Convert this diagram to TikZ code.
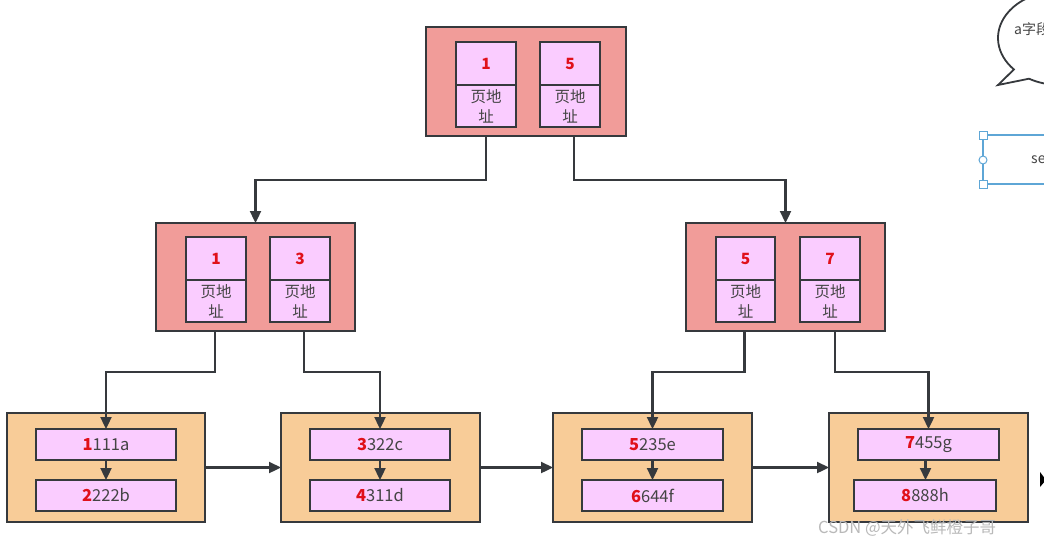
\documentclass[tikz,border=0pt]{standalone}
\usepackage{fontspec}
\setmainfont{Noto Sans CJK SC}
\usetikzlibrary{arrows.meta}
\definecolor{lc}{HTML}{36393D}
\definecolor{salmon}{HTML}{F19C99}
\definecolor{pinkc}{HTML}{FACCFF}
\definecolor{leafc}{HTML}{F8CC98}
\definecolor{numred}{HTML}{E0101A}
\definecolor{txt}{HTML}{444444}
\definecolor{selblue}{HTML}{5EA6D6}
\newcommand\bx[7]{\node[#6, anchor=north west, minimum width={(#4-#2)*1pt}, minimum height={(#5-#3)*1pt}] (#1) at (#2,#3) {#7};}
\newcommand\num[1]{{\color{numred}\bfseries #1}}
\tikzset{
  base/.style={draw=lc, inner sep=0pt, outer sep=0pt, text=txt},
  outerbox/.style={base, line width=2.8pt, fill=salmon},
  leafbox/.style={base, line width=2.8pt, fill=leafc},
  cellbox/.style={base, line width=2.3pt, fill=pinkc, font=\fontsize{15.5}{20}\selectfont, align=center},
  recbox/.style={base, line width=2.3pt, fill=pinkc, font=\fontsize{16.5}{18}\selectfont},
  conn/.style={draw=lc, line width=2.3pt, -{Triangle[length=12pt,width=11pt]}},
}
\begin{document}
\begin{tikzpicture}[x=1pt,y=-1pt]
\useasboundingbox[fill=white] (0,0) rectangle (1044,547);
% root
\bx{root}{426}{27}{626}{136}{outerbox}{}
\bx{r1n}{456}{42}{516}{85}{cellbox}{\num{1}}
\bx{r1t}{456}{85}{516}{127}{cellbox}{页地\\址}
\bx{r2n}{540}{42}{600}{85}{cellbox}{\num{5}}
\bx{r2t}{540}{85}{600}{127}{cellbox}{页地\\址}
% middle left
\bx{midL}{156}{223}{355}{331}{outerbox}{}
\bx{m1n}{186}{237}{246}{280}{cellbox}{\num{1}}
\bx{m1t}{186}{280}{246}{322}{cellbox}{页地\\址}
\bx{m2n}{270}{237}{330}{280}{cellbox}{\num{3}}
\bx{m2t}{270}{280}{330}{322}{cellbox}{页地\\址}
% middle right
\bx{midR}{686}{223}{885}{331}{outerbox}{}
\bx{m3n}{716}{237}{775}{280}{cellbox}{\num{5}}
\bx{m3t}{716}{280}{775}{322}{cellbox}{页地\\址}
\bx{m4n}{800}{237}{860}{280}{cellbox}{\num{7}}
\bx{m4t}{800}{280}{860}{322}{cellbox}{页地\\址}
% leaves
\bx{la}{7}{413}{205}{522}{leafbox}{}
\bx{lb}{281}{413}{480}{522}{leafbox}{}
\bx{lc}{553}{413}{752}{522}{leafbox}{}
\bx{ld}{829}{413}{1028}{522}{leafbox}{}
\bx{la1}{36}{429}{176}{460}{recbox}{\num{1}111a}
\bx{la2}{36}{480}{176}{511}{recbox}{\num{2}222b}
\bx{lb1}{310}{429}{450}{460}{recbox}{\num{3}322c}
\bx{lb2}{310}{480}{450}{511}{recbox}{\num{4}311d}
\bx{lc1}{582}{429}{723}{460}{recbox}{\num{5}235e}
\bx{lc2}{582}{480}{723}{511}{recbox}{\num{6}644f}
\bx{ld1}{858}{429}{999}{460}{recbox}{\num{7}455g}
\bx{ld2}{854}{480}{996}{511}{recbox}{\num{8}888h}
% connectors
\draw[conn] (r1t.south |- root.south) -- ++(0,44) -| (midL.north);
\draw[conn] ([xshift=4pt]r2t.south |- root.south) -- ++(0,44) -| (midR.north);
\draw[conn] ([xshift=-1pt]m1t.south |- midL.south) -- ++(0,41) -| (la1.north);
\draw[conn] ([xshift=4pt]m2t.south |- midL.south) -- ++(0,41) -| (lb1.north);
\draw[conn] ([xshift=-1pt]m3t.south |- midR.south) -- ++(0,41) -| (lc1.north);
\draw[conn] ([xshift=5pt]m4t.south |- midR.south) -- ++(0,41) -| (ld1.north);
\draw[conn] (la.east) -- (lb.west);
\draw[conn] (lb.east) -- (lc.west);
\draw[conn] (lc.east) -- (ld.west);
\draw[conn] (la1.south) -- (la2.north);
\draw[conn] (lb1.south) -- (lb2.north);
\draw[conn] (lc1.south) -- (lc2.north);
\draw[conn] ([xshift=-3pt]ld1.south) -- ([xshift=0.5pt]ld2.north);
% speech bubble (cut off at right)
\coordinate (tip) at (998,85);
\coordinate (bb) at (1029,78.7);
\draw[line width=1.8pt, draw=lc, fill=white] (tip) -- (bb) arc[start angle=240, end angle=582, x radius=62pt, y radius=47pt] -- cycle;
\node[anchor=west, text=txt, font=\fontsize{14}{16}\selectfont, inner sep=0pt] (bubtxt) at (1014,29) {a字段};
% selected element (cut off at right)
\coordinate (s1) at (983,135);
\coordinate (s2) at (983,184);
\coordinate (sm) at (983,160);
\draw[selblue, line width=1.2pt] (1044,135) -- (s1) -- (s2) -- (1044,184);
\node[text=txt, font=\fontsize{14}{16}\selectfont, anchor=west, inner sep=0pt] (seltxt) at (1031,160) {se};
\node[draw=selblue, fill=white, line width=1pt, minimum size=8pt, inner sep=0pt] (h1) at (s1) {};
\node[draw=selblue, fill=white, line width=1pt, minimum size=8pt, inner sep=0pt] (h2) at (s2) {};
\node[draw=selblue, fill=white, line width=1pt, circle, minimum size=8pt, inner sep=0pt] (h3) at (sm) {};
% cursor
\fill[black] (1040,472) -- (1046,480) -- (1040,487) -- cycle;
% watermark
\node[anchor=west, text=gray!55, font=\fontsize{16.5}{18}\selectfont, inner sep=0pt] (wm) at (818,528) {CSDN @天外飞鲜橙子哥};
\end{tikzpicture}
\end{document}
